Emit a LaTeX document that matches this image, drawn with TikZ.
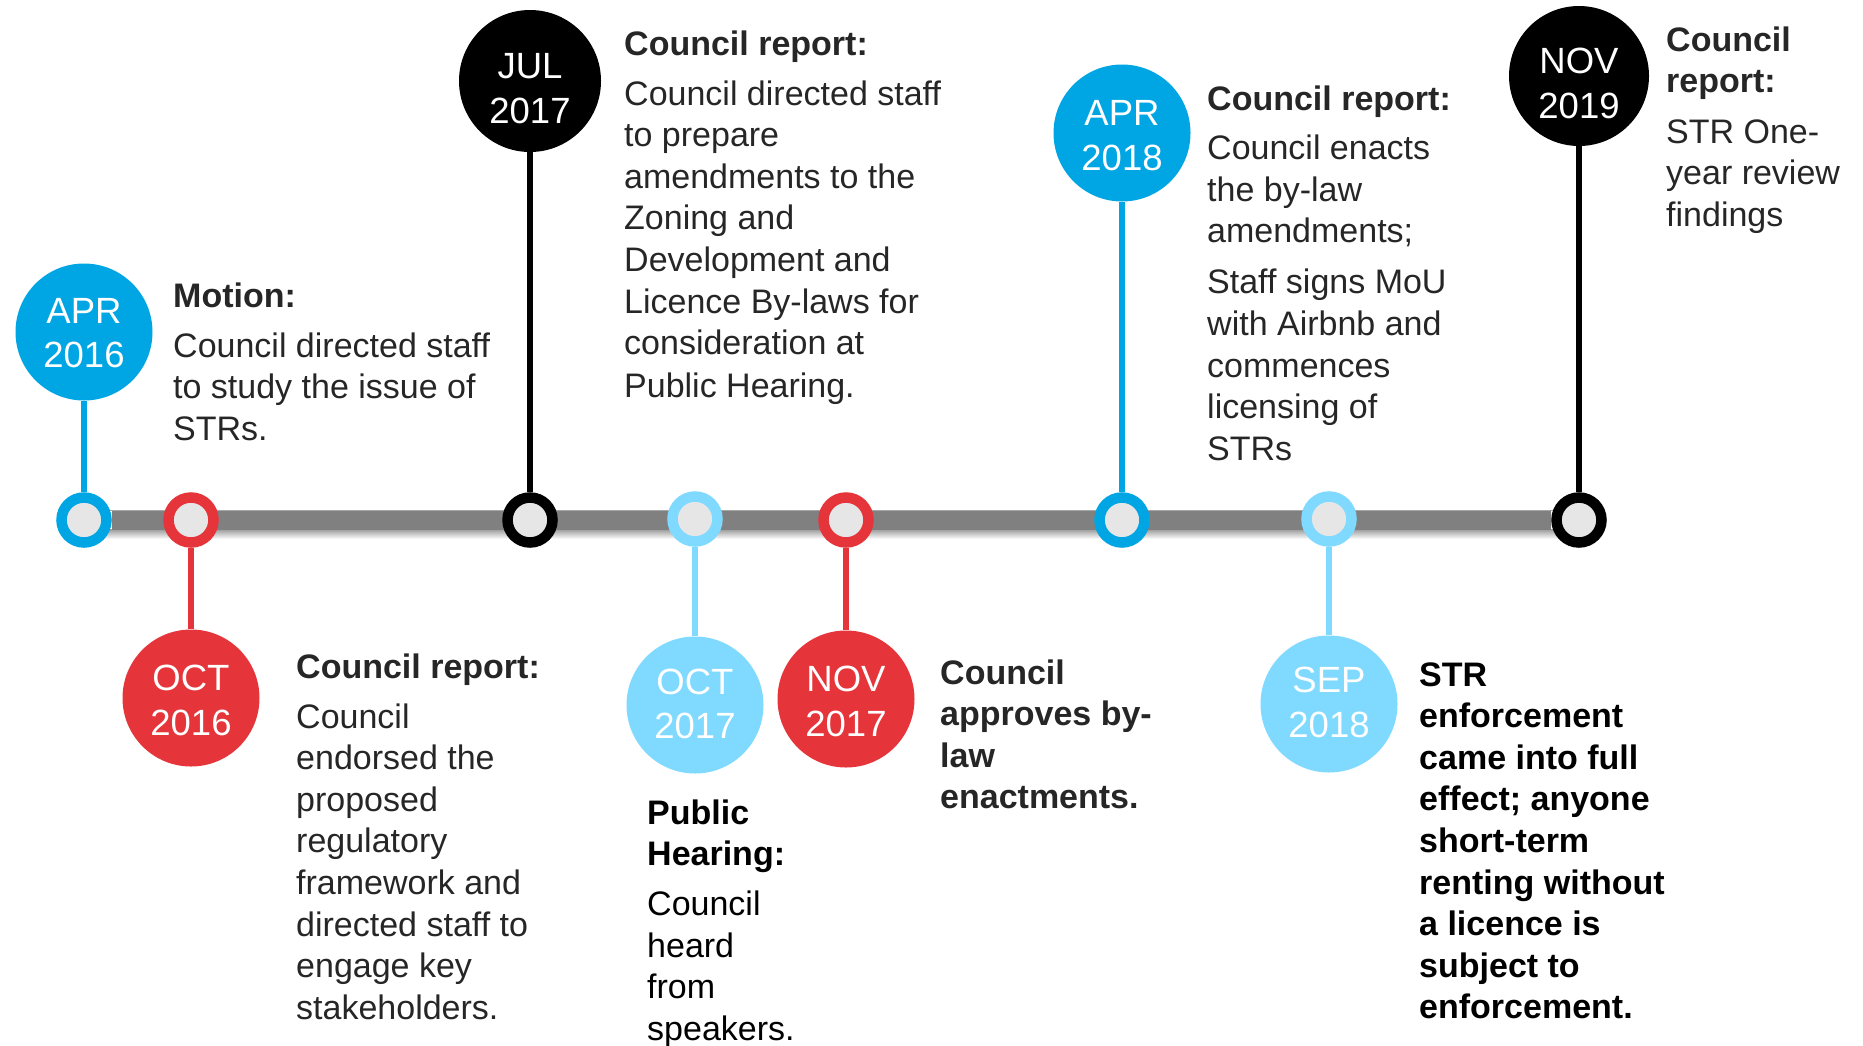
\documentclass[tikz,border=0pt]{standalone}
\usepackage{fontspec}
\setmainfont{Liberation Sans}
\usetikzlibrary{backgrounds,calc}

\definecolor{deepblue}{RGB}{0,165,227}
\definecolor{lightblue}{RGB}{128,217,255}
\definecolor{alertred}{RGB}{229,53,58}
\definecolor{hubgray}{RGB}{230,230,230}
\definecolor{bargray}{RGB}{128,128,128}
\definecolor{ink}{RGB}{38,38,38}

% a top-aligned text column whose baseline is that of its first line
\newcommand{\notecol}[1]{\parbox[t]{420pt}{\fontsize{34}{41.6}\selectfont #1}}

\begin{document}
\begin{tikzpicture}[x=1pt,y=-1pt,
  datebub/.style={circle, fill=#1, minimum size=137pt, inner sep=0pt},
  datetxt/.style={text=white, align=center, inner sep=0pt,
    font=\fontsize{36.5}{44.5}\selectfont, yshift=-2.5pt},
  hub/.style={circle, draw=#1, line width=10.5pt, fill=hubgray,
    minimum size=45pt, inner sep=0pt},
  stem/.style={draw=#1, line width=6pt},
  note/.style={anchor=base west, inner sep=0pt, text=ink},
  darknote/.style={note, text=black},
]
\useasboundingbox (0,0) rectangle (1863,1045);

% markers on the timeline
\node[hub=deepblue]  (s1) at (84,520)   {};
\node[hub=alertred]  (s2) at (191,520)  {};
\node[hub=black]     (s3) at (530,520)  {};
\node[hub=lightblue] (s4) at (695,519)  {};
\node[hub=alertred]  (s5) at (846,520)  {};
\node[hub=deepblue]  (s6) at (1122,520) {};
\node[hub=lightblue] (s7) at (1329,519) {};
\node[hub=black]     (s8) at (1579,520) {};

% timeline bar and its soft shadow
\begin{scope}[on background layer]
  \shade[top color=black!40, bottom color=white]
    ($(s1.center)+(0,9)$) rectangle ($(s8.center)+(0,19)$);
  \draw[line width=20pt, bargray] (s1) -- (s8);
  \draw[line width=1.5pt, black!35] ($(s1.center)+(0,-9.5)$) -- ($(s8.center)+(0,-9.5)$);
\end{scope}

% date bubbles
\node[datebub=deepblue,  label={[datetxt, yshift=1.5pt]center:APR\\2016}] (b1) at (84,332) {};
\node[datebub=alertred,  label={[datetxt]center:OCT\\2016}] (b2) at (191,698)  {};
\node[datebub=black, minimum size=142pt,
      label={[datetxt, yshift=-5pt]center:JUL\\2017}]       (b3) at (530,81)   {};
\node[datebub=lightblue, label={[datetxt, yshift=3.5pt]center:OCT\\2017}] (b4) at (695,705) {};
\node[datebub=alertred,  label={[datetxt]center:NOV\\2017}] (b5) at (846,699)  {};
\node[datebub=deepblue,  label={[datetxt]center:APR\\2018}] (b6) at (1122,133) {};
\node[datebub=lightblue, label={[datetxt, yshift=4pt]center:SEP\\2018}] (b7) at (1329,704) {};
\node[datebub=black, minimum size=140pt,
      label={[datetxt, yshift=-5pt]center:NOV\\2019}]       (b8) at (1579,76)  {};

% stems joining bubbles to markers
\draw[stem=deepblue]  (b1) -- (s1);
\draw[stem=alertred]  (b2) -- (s2);
\draw[stem=black]     (b3) -- (s3);
\draw[stem=lightblue] (b4) -- (s4);
\draw[stem=alertred]  (b5) -- (s5);
\draw[stem=deepblue]  (b6) -- (s6);
\draw[stem=lightblue] (b7) -- (s7);
\draw[stem=black]     (b8) -- (s8);

% event descriptions
\node[note] (t1) at (173,307) {\notecol{\textbf{Motion:}\\[8.4pt]
  Council directed staff\\to study the issue of\\STRs.}};

\node[note] (t2) at (296,678) {\notecol{\textbf{Council report:}\\[8.4pt]
  Council\\endorsed the\\proposed\\regulatory\\framework and\\directed staff to\\engage key\\stakeholders.}};

\node[note] (t3) at (624,55) {\notecol{\textbf{Council report:}\\[8.4pt]
  Council directed staff\\to prepare\\amendments to the\\Zoning and\\Development and\\Licence By-laws for\\consideration at\\[1.5pt]Public Hearing.}};

\node[darknote] (t4) at (647,824) {\notecol{\textbf{Public}\\\textbf{Hearing:}\\[8.5pt]
  Council\\heard\\from\\speakers.}};

\node[note] (t5) at (940,684) {\notecol{\bfseries Council\\approves by-\\law\\enactments.}};

\node[note] (t6) at (1207,110) {\notecol{\textbf{Council report:}\\[8pt]
  Council enacts\\the by-law\\amendments;\\[9.5pt]
  Staff signs MoU\\with Airbnb and\\commences\\licensing of\\STRs}};

\node[darknote] (t7) at (1419,686) {\notecol{\bfseries STR\\enforcement\\came into full\\effect; anyone\\short-term\\renting without\\a licence is\\subject to\\enforcement.}};

\node[note] (t8) at (1666,51) {\notecol{\textbf{Council}\\\textbf{report:}\\[9pt]
  STR One-\\year review\\findings}};
\end{tikzpicture}
\end{document}
